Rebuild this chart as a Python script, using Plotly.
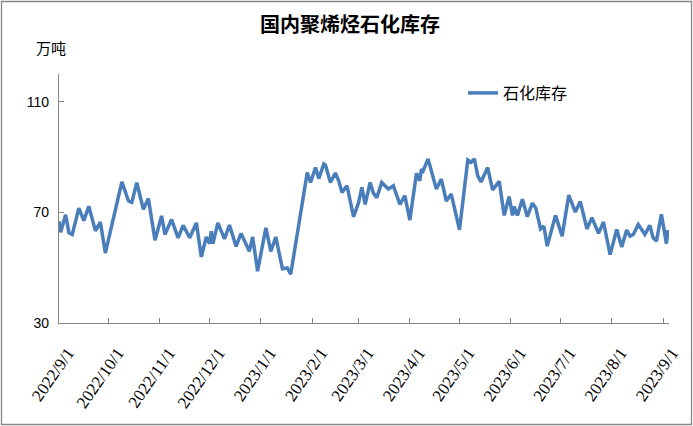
import plotly.graph_objects as go

dates = [
    "2022-09-01", "2022-09-02", "2022-09-05", "2022-09-07", "2022-09-09", "2022-09-13",
    "2022-09-16", "2022-09-19", "2022-09-23", "2022-09-26", "2022-09-29", "2022-10-09",
    "2022-10-13", "2022-10-15", "2022-10-18", "2022-10-20", "2022-10-22", "2022-10-25",
    "2022-10-29", "2022-11-02", "2022-11-04", "2022-11-08", "2022-11-12", "2022-11-15",
    "2022-11-19", "2022-11-23", "2022-11-26", "2022-11-29", "2022-12-01", "2022-12-02",
    "2022-12-03", "2022-12-06", "2022-12-10", "2022-12-13", "2022-12-15", "2022-12-17",
    "2022-12-20", "2022-12-25", "2022-12-27", "2022-12-30", "2023-01-04", "2023-01-07",
    "2023-01-10", "2023-01-14", "2023-01-17", "2023-01-19", "2023-01-29", "2023-01-31",
    "2023-02-03", "2023-02-05", "2023-02-08", "2023-02-09", "2023-02-12", "2023-02-15",
    "2023-02-17", "2023-02-19", "2023-02-22", "2023-02-26", "2023-03-01", "2023-03-03",
    "2023-03-05", "2023-03-08", "2023-03-10", "2023-03-12", "2023-03-15", "2023-03-19",
    "2023-03-22", "2023-03-24", "2023-03-26", "2023-03-29", "2023-04-01", "2023-04-05",
    "2023-04-07", "2023-04-08", "2023-04-09", "2023-04-12", "2023-04-17", "2023-04-20",
    "2023-04-23", "2023-04-26", "2023-05-01", "2023-05-06", "2023-05-08", "2023-05-10",
    "2023-05-12", "2023-05-14", "2023-05-18", "2023-05-21", "2023-05-25", "2023-05-28",
    "2023-05-31", "2023-06-02", "2023-06-03", "2023-06-05", "2023-06-08", "2023-06-11",
    "2023-06-14", "2023-06-16", "2023-06-19", "2023-06-21", "2023-06-23", "2023-06-28",
    "2023-07-02", "2023-07-06", "2023-07-10", "2023-07-13", "2023-07-17", "2023-07-20",
    "2023-07-24", "2023-07-27", "2023-07-31", "2023-08-04", "2023-08-07", "2023-08-10",
    "2023-08-12", "2023-08-14", "2023-08-17", "2023-08-21", "2023-08-24", "2023-08-26",
    "2023-08-28", "2023-08-31", "2023-09-02", "2023-09-03", "2023-09-04",
]

inventory = [
    66.8, 62.8, 69.1, 62.6, 62.0, 71.5,
    67.0, 72.2, 63.3, 66.5, 55.3, 81.0,
    74.1, 73.6, 80.7, 75.6, 71.1, 75.0,
    59.9, 68.7, 62.0, 67.4, 60.8, 65.3,
    60.8, 66.2, 53.9, 61.1, 58.7, 63.2,
    58.7, 66.2, 60.4, 65.4, 61.1, 57.7,
    62.4, 55.9, 61.1, 48.7, 64.4, 55.9,
    61.1, 49.6, 49.9, 47.6, 84.4, 80.8,
    86.2, 82.2, 87.5, 87.1, 80.8, 84.2,
    81.4, 77.2, 79.6, 68.4, 73.5, 79.0,
    72.9, 80.8, 76.9, 75.3, 80.8, 78.4,
    79.6, 76.6, 72.9, 76.0, 67.2, 84.1,
    81.4, 85.6, 85.0, 89.3, 78.4, 82.0,
    74.1, 76.6, 63.7, 88.9, 88.1, 89.3,
    83.2, 81.0, 86.2, 78.1, 81.2, 68.9,
    75.7, 68.9, 72.1, 68.9, 74.7, 68.4,
    73.3, 71.7, 64.0, 65.0, 57.8, 68.9,
    61.4, 76.2, 70.1, 73.9, 64.0, 68.1,
    62.4, 66.5, 54.7, 63.8, 57.5, 63.6,
    61.4, 62.0, 65.6, 62.0, 65.3, 60.8,
    59.6, 69.3, 60.8, 58.7, 63.6,
]

tick_dates = [
    "2022-09-01", "2022-10-01", "2022-11-01", "2022-12-01", "2023-01-01", "2023-02-01",
    "2023-03-01", "2023-04-01", "2023-05-01", "2023-06-01", "2023-07-01", "2023-08-01",
    "2023-09-01",
]
tick_labels = [
    "2022/9/1", "2022/10/1", "2022/11/1", "2022/12/1", "2023/1/1", "2023/2/1",
    "2023/3/1", "2023/4/1", "2023/5/1", "2023/6/1", "2023/7/1", "2023/8/1",
    "2023/9/1",
]

y_ticks = [30, 70, 110]

series_name = "石化库存"
title_text = "国内聚烯烃石化库存"
unit_text = "万吨"

W, H = 693, 426
ML, MR, MT, MB = 59, 24, 74, 103
PW = W - ML - MR
PH = H - MT - MB

fig = go.Figure()
fig.add_trace(go.Scatter(
    x=dates, y=inventory, mode="lines", name=series_name,
    line=dict(color="#4a7ebb", width=3.5),
))

axis_color = "#868686"

fig.update_layout(
    width=W, height=H,
    margin=dict(l=ML, r=MR, t=MT, b=MB, pad=0),
    paper_bgcolor="white", plot_bgcolor="white",
    title=dict(
        text="<b>" + title_text + "</b>",
        x=(350 - ML) / PW, xanchor="center", xref="paper",
        y=1 - 25 / H, yanchor="middle", yref="container",
        font=dict(family="Noto Sans CJK SC", size=20, color="#000000"),
    ),
    showlegend=True,
    legend=dict(
        x=(463 - ML) / PW, y=(MT + PH - 93) / PH, xanchor="left", yanchor="middle",
        font=dict(family="Noto Sans CJK SC", size=16, color="#000000"),
        bgcolor="rgba(0,0,0,0)", borderwidth=0,
    ),
    xaxis=dict(
        type="date",
        range=["2022-09-01", "2023-09-04 14:00"],
        tickvals=tick_dates, ticktext=tick_labels,
        tickangle=-55,
        tickfont=dict(family="Liberation Serif, Times New Roman, serif", size=17, color="#000000"),
        ticklabelstandoff=12,
        ticklabelshift=9,
        showgrid=False, zeroline=False,
        showline=True, linecolor=axis_color, linewidth=1.3,
        ticks="inside", ticklen=5, tickcolor=axis_color, tickwidth=1.3,
    ),
    yaxis=dict(
        range=[30, 120],
        tickvals=y_ticks,
        tickfont=dict(family="Liberation Sans", size=14, color="#000000"),
        showgrid=False, zeroline=False,
        showline=True, linecolor=axis_color, linewidth=1.3,
        ticks="inside", ticklen=5, tickcolor=axis_color, tickwidth=1.3,
        ticklabelstandoff=6,
    ),
    font=dict(family="Noto Sans CJK SC"),
)

fig.add_annotation(
    text=unit_text, xref="paper", yref="paper",
    x=(51 - ML) / PW, y=(MT + PH - 47) / PH,
    xanchor="center", yanchor="middle", showarrow=False,
    font=dict(family="Noto Sans CJK SC", size=15, color="#000000"),
)

fig.add_shape(
    type="rect", xref="paper", yref="paper",
    x0=(1.5 - ML) / PW, x1=(W - 1.5 - ML) / PW,
    y0=(MT + PH - (H - 1.5)) / PH, y1=(MT + PH - 1.5) / PH,
    line=dict(color=axis_color, width=1.3), fillcolor="rgba(0,0,0,0)", layer="below",
)

fig.write_html(
    "out.html",
    config={"displayModeBar": False},
    post_script="document.body.style.margin='0';document.body.style.overflow='hidden';",
)
